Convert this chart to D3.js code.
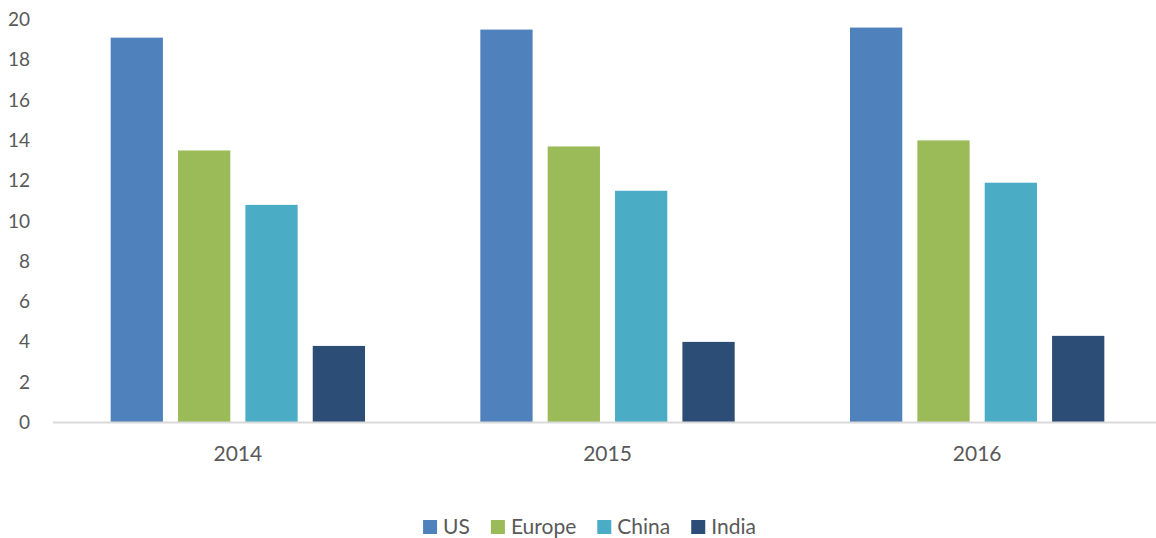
<!DOCTYPE html>
<html>
<head>
<meta charset="utf-8">
<script src="https://cdn.jsdelivr.net/npm/d3@7/dist/d3.min.js"></script>
<style>
  html, body { margin: 0; padding: 0; background: #fff; }
  svg { display: block; }
  text { font-family: Lato, "Open Sans", sans-serif; fill: #595959; }
</style>
</head>
<body>
<svg id="chart" width="1156" height="538"></svg>
<script>
const years = ["2014", "2015", "2016"];
const seriesNames = ["US", "Europe", "China", "India"];
const seriesColors = ["#4f81bd", "#9bbb59", "#4bacc6", "#2c4d75"];
const US = [19.1, 19.5, 19.6];
const Europe = [13.5, 13.7, 14.0];
const China = [10.8, 11.5, 11.9];
const India = [3.8, 4.0, 4.3];
const yTicks = [0, 2, 4, 6, 8, 10, 12, 14, 16, 18, 20];

const seriesValues = [US, Europe, China, India];
const svg = d3.select("#chart");

const x0 = d3.scaleBand().domain(years).range([53, 1162]).paddingInner(0).paddingOuter(0);
const x1 = d3.scaleBand().domain(seriesNames).range([0, x0.bandwidth()]).paddingInner(0.224).paddingOuter(0.856);
const y = d3.scaleLinear().domain([0, 20]).range([422.5, 19.5]);
const color = d3.scaleOrdinal().domain(seriesNames).range(seriesColors);

// y axis labels
const yAxis = d3.axisLeft(y).tickValues(yTicks).tickSize(0).tickPadding(0);
const gy = svg.append("g").attr("transform", "translate(30,0)").call(yAxis);
gy.select(".domain").remove();
gy.selectAll("text").style("font-size", "19px").style("font-family", "Lato, 'Open Sans', sans-serif").attr("fill", "#595959");

// bars
const groups = svg.append("g").selectAll("g").data(years).join("g")
  .attr("transform", d => `translate(${x0(d)},0)`);
groups.selectAll("rect")
  .data((yr, i) => seriesNames.map((s, j) => ({ s, v: seriesValues[j][i] })))
  .join("rect")
  .attr("x", d => x1(d.s))
  .attr("width", x1.bandwidth())
  .attr("y", d => y(d.v))
  .attr("height", d => y(0) - y(d.v))
  .attr("fill", d => color(d.s));

// x axis
const xAxis = d3.axisBottom(x0).tickSize(0).tickPadding(0);
const gx = svg.append("g").attr("transform", `translate(0,${y(0)})`).call(xAxis);
gx.select(".domain").attr("stroke", "#d9d9d9").attr("stroke-width", 2).attr("d", `M53,0H1156`);
gx.selectAll("text").style("font-size", "21px").style("font-family", "Lato, 'Open Sans', sans-serif")
  .attr("fill", "#595959").attr("dy", null).attr("y", 38.5);

// legend
const legend = svg.append("g");
let cx = 0;
seriesNames.forEach((s, i) => {
  const g = legend.append("g");
  g.append("rect").attr("x", 0).attr("y", 520).attr("width", 14).attr("height", 14).attr("fill", seriesColors[i]);
  const t = g.append("text").attr("x", 20).attr("y", 534).style("font-size", "21px").text(s);
  const w = 20 + t.node().getComputedTextLength();
  g.attr("transform", `translate(${cx},0)`);
  cx += w + 21;
});
const totalW = cx - 21;
legend.attr("transform", `translate(${589.5 - totalW / 2},0)`);
</script>
</body>
</html>
